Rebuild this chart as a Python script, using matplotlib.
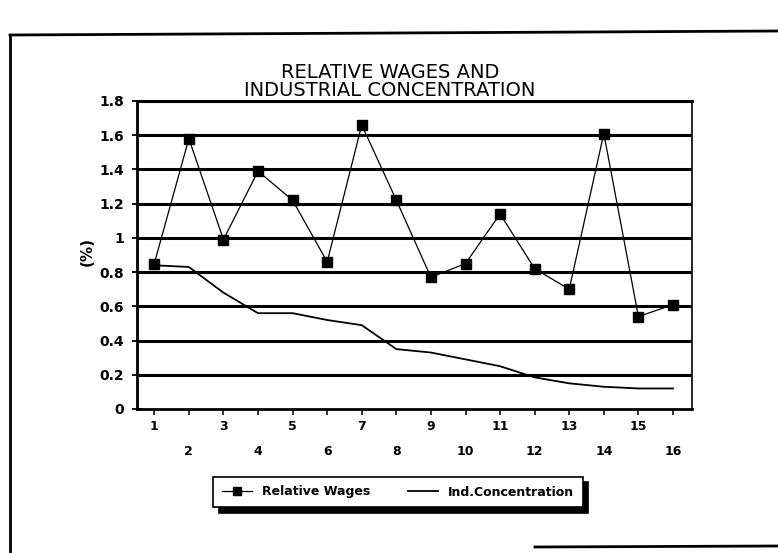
import matplotlib
matplotlib.use("Agg")
import matplotlib.pyplot as plt
from matplotlib.lines import Line2D
import numpy as np

# data
categories = list(range(1, 17))
relative_wages = [0.85, 1.58, 0.99, 1.39, 1.22, 0.86, 1.66, 1.22,
                  0.77, 0.85, 1.14, 0.82, 0.70, 1.61, 0.54, 0.61]
ind_concentration = [0.84, 0.83, 0.68, 0.56, 0.56, 0.52, 0.49, 0.35,
                     0.33, 0.29, 0.25, 0.185, 0.15, 0.13, 0.12, 0.12]
y_ticks = [0, 0.2, 0.4, 0.6, 0.8, 1, 1.2, 1.4, 1.6, 1.8]
y_ticklabels = ["0", "0.2", "0.4", "0.6", "0.8", "1", "1.2", "1.4", "1.6", "1.8"]

W, H = 778, 553
fig = plt.figure(figsize=(W / 100, H / 100), dpi=100)
fig.patch.set_facecolor("white")

def fx(px):
    return px / W

def fy(py):
    return 1 - py / H

ax = fig.add_axes([fx(137), fy(409), fx(692) - fx(137), fy(101) - fy(409)])

# thick horizontal grid lines
for v in y_ticks[1:]:
    ax.axhline(v, color="black", lw=2.2, zorder=1)

ax.plot(categories, relative_wages, color="black", lw=0.9, marker="s",
        markersize=7, markerfacecolor="black", markeredgecolor="black",
        label="Relative Wages", zorder=3)
ax.plot(categories, ind_concentration, color="black", lw=1.3,
        label="Ind.Concentration", zorder=3)

ax.set_xlim(0.5, 16.55)
ax.set_ylim(0, 1.8)

ax.set_yticks(y_ticks)
ax.set_yticklabels(y_ticklabels, fontsize=10, fontweight="bold")
ax.tick_params(axis="y", direction="inout", length=7, width=1.3, pad=6)

ax.set_xticks(categories)
xlabels = [str(c) if c % 2 == 1 else "\n" + str(c) for c in categories]
ax.set_xticklabels(xlabels, fontsize=9, fontweight="bold", linespacing=2.2)
ax.tick_params(axis="x", direction="out", length=4, width=1.1, pad=4)

for side in ["left", "bottom"]:
    ax.spines[side].set_linewidth(2)
ax.spines["right"].set_linewidth(1.2)
ax.spines["top"].set_linewidth(2.2)

fig.text(fx(87), fy(252), "(%)", rotation=90, ha="center", va="center",
         fontsize=11, fontweight="bold")

fig.text(fx(390), fy(72), "RELATIVE WAGES AND", ha="center", va="center",
         fontsize=14)
fig.text(fx(390), fy(91), "INDUSTRIAL CONCENTRATION", ha="center", va="center",
         fontsize=14)

leg = fig.legend(loc="center", bbox_to_anchor=(fx(398), fy(492)), ncol=2,
                 frameon=True, fancybox=False, edgecolor="black",
                 shadow={"color": "black", "alpha": 1, "ox": 4, "oy": -4},
                 prop={"size": 9, "weight": "bold"}, handlelength=2.4,
                 columnspacing=3.0, borderpad=0.7, markerscale=0.9)
leg.get_frame().set_linewidth(1.2)

# outer frame of the scanned page
fig.add_artist(Line2D([fx(10), fx(778)], [fy(35), fy(31)], color="black", lw=2,
                      transform=fig.transFigure))
fig.add_artist(Line2D([fx(10), fx(10)], [fy(35), fy(553)], color="black", lw=2,
                      transform=fig.transFigure))
fig.add_artist(Line2D([fx(535), fx(778)], [fy(547), fy(546)], color="black", lw=2,
                      transform=fig.transFigure))

fig.savefig("out.png", dpi=100)
